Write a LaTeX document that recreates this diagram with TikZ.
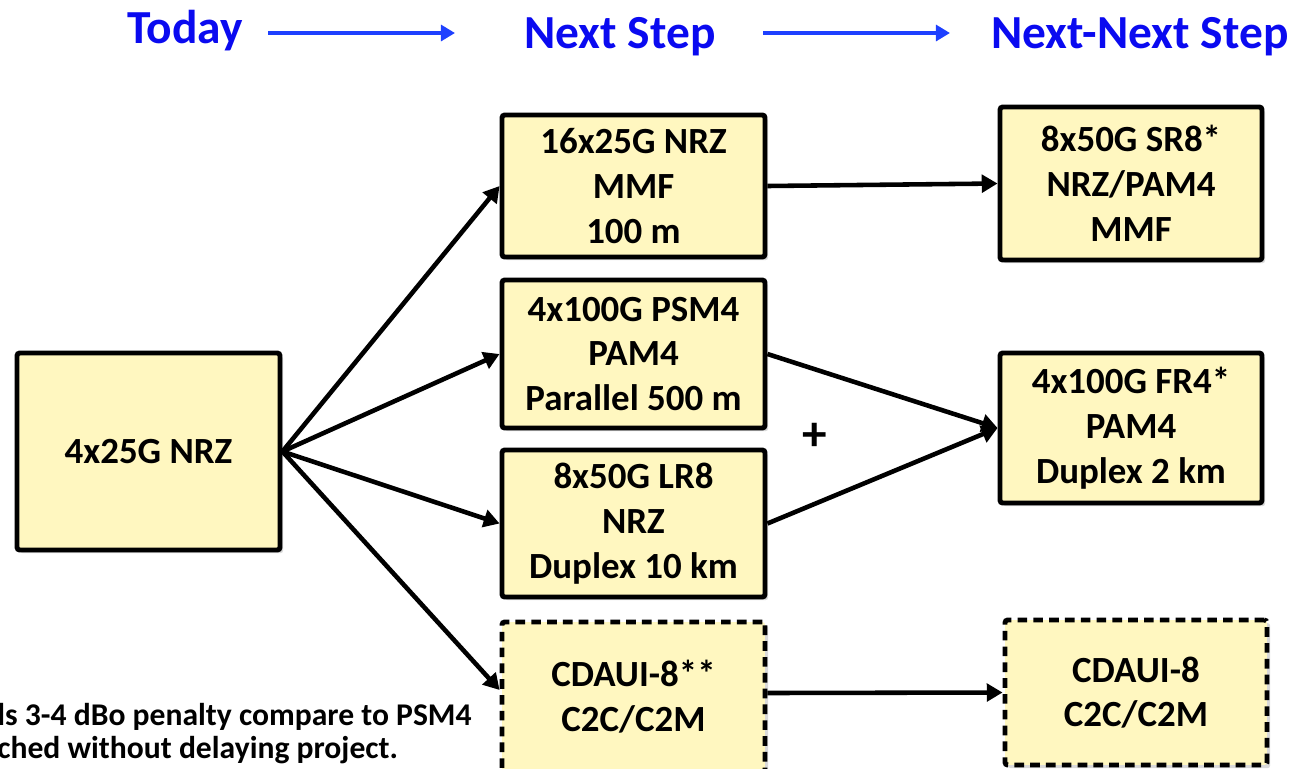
\documentclass[tikz,border=0pt]{standalone}
\usepackage{fontspec}
\setmainfont{Carlito}
\usetikzlibrary{arrows.meta,shadows}
\definecolor{boxfill}{HTML}{FFF7C0}
\definecolor{hdrblue}{HTML}{0A0AF0}
\definecolor{hdrline}{HTML}{1E40FF}

\begin{document}
\begin{tikzpicture}[x=0.02cm, y=-0.02cm, % 1 unit = 1 pixel of the 1298x768 picture
    box/.style={draw=black, line width=2.8pt, fill=boxfill, align=center, inner sep=0pt,
        rounded corners=1.5pt, minimum width=5.26cm, font=\fontsize{21}{25.5}\selectfont\bfseries,
        drop shadow={shadow xshift=1.8pt, shadow yshift=-1.8pt, opacity=0.3}},
    dbox/.style={box, dash pattern=on 5.5pt off 3.5pt},
    hdr/.style={text=hdrblue, inner sep=0pt, font=\fontsize{27}{30}\selectfont\bfseries},
    hdrarrow/.style={hdrline, line width=2.4pt, -{Triangle[length=8pt,width=9pt]}},
    conn/.style={black, line width=2.6pt, -{Triangle[length=9pt,width=10pt]}}]

    % --- picture size ---
    \useasboundingbox (0,0) rectangle (1298,768);

    % --- headers ---
    \node[hdr] (hToday) at (185,31) {Today};
    \node[hdr] (hNext) at (620,37) {Next Step};
    \node[hdr] (hNextNext) at (1140,37) {Next-Next Step};
    \coordinate (a1s) at (268,33);
    \coordinate (a1e) at (455,33);
    \coordinate (a2s) at (763,33);
    \coordinate (a2e) at (950,33);
    \draw[hdrarrow] (a1s) -- (a1e);
    \draw[hdrarrow] (a2s) -- (a2e);

    % --- today ---
    \node[box, minimum height=3.94cm] (nrz4) at (148.5,451.5) {4x25G NRZ};

    % --- next step ---
    \node[box, minimum height=2.84cm] (nrz16) at (633.5,186) {16x25G NRZ\\MMF\\100 m};
    \node[box, minimum height=2.96cm] (psm4) at (633.5,354) {4x100G PSM4\\PAM4\\Parallel 500 m};
    \node[box, minimum height=2.94cm] (lr8) at (633.5,523.5) {8x50G LR8\\NRZ\\Duplex 10 km};
    \node[dbox, minimum height=3.0cm] (cdaui) at (633.5,697) {CDAUI-8**\\C2C/C2M};

    % --- next-next step ---
    \node[box, minimum width=5.24cm, minimum height=3.06cm] (sr8) at (1131,183.5) {8x50G SR8*\\NRZ/PAM4\\MMF};
    \node[box, minimum width=5.24cm, minimum height=3.0cm] (fr4) at (1131,428) {4x100G FR4*\\PAM4\\Duplex 2 km};
    \node[dbox, minimum width=5.24cm, minimum height=2.9cm] (cdauiB) at (1136,692.5) {CDAUI-8\\C2C/C2M};

    % --- connectors ---
    \draw[conn] (nrz4.east) -- (nrz16.west);
    \draw[conn] (nrz4.east) -- (psm4.west);
    \draw[conn] (nrz4.east) -- (lr8.west);
    \draw[conn] (nrz4.east) -- ([yshift=0.14cm]cdaui.west);
    \draw[conn] (nrz16.east) -- (sr8.west);
    \draw[conn] (psm4.east) -- (fr4.west);
    \draw[conn] (lr8.east) -- (fr4.west);
    \draw[conn] ([yshift=0.08cm]cdaui.east) -- (cdauiB.west);

    % --- plus sign ---
    \node[font=\fontsize{28}{30}\selectfont\bfseries] (plus) at (815,437) {+};

    % --- footnote (cut at the left edge) ---
    \node[anchor=north west, align=left, inner sep=0pt,
        font=\fontsize{18}{19}\selectfont\bfseries] (note) at (-3,703)
        {ls 3-4 dBo penalty compare to PSM4\\ched without delaying project.};

\end{tikzpicture}
\end{document}
